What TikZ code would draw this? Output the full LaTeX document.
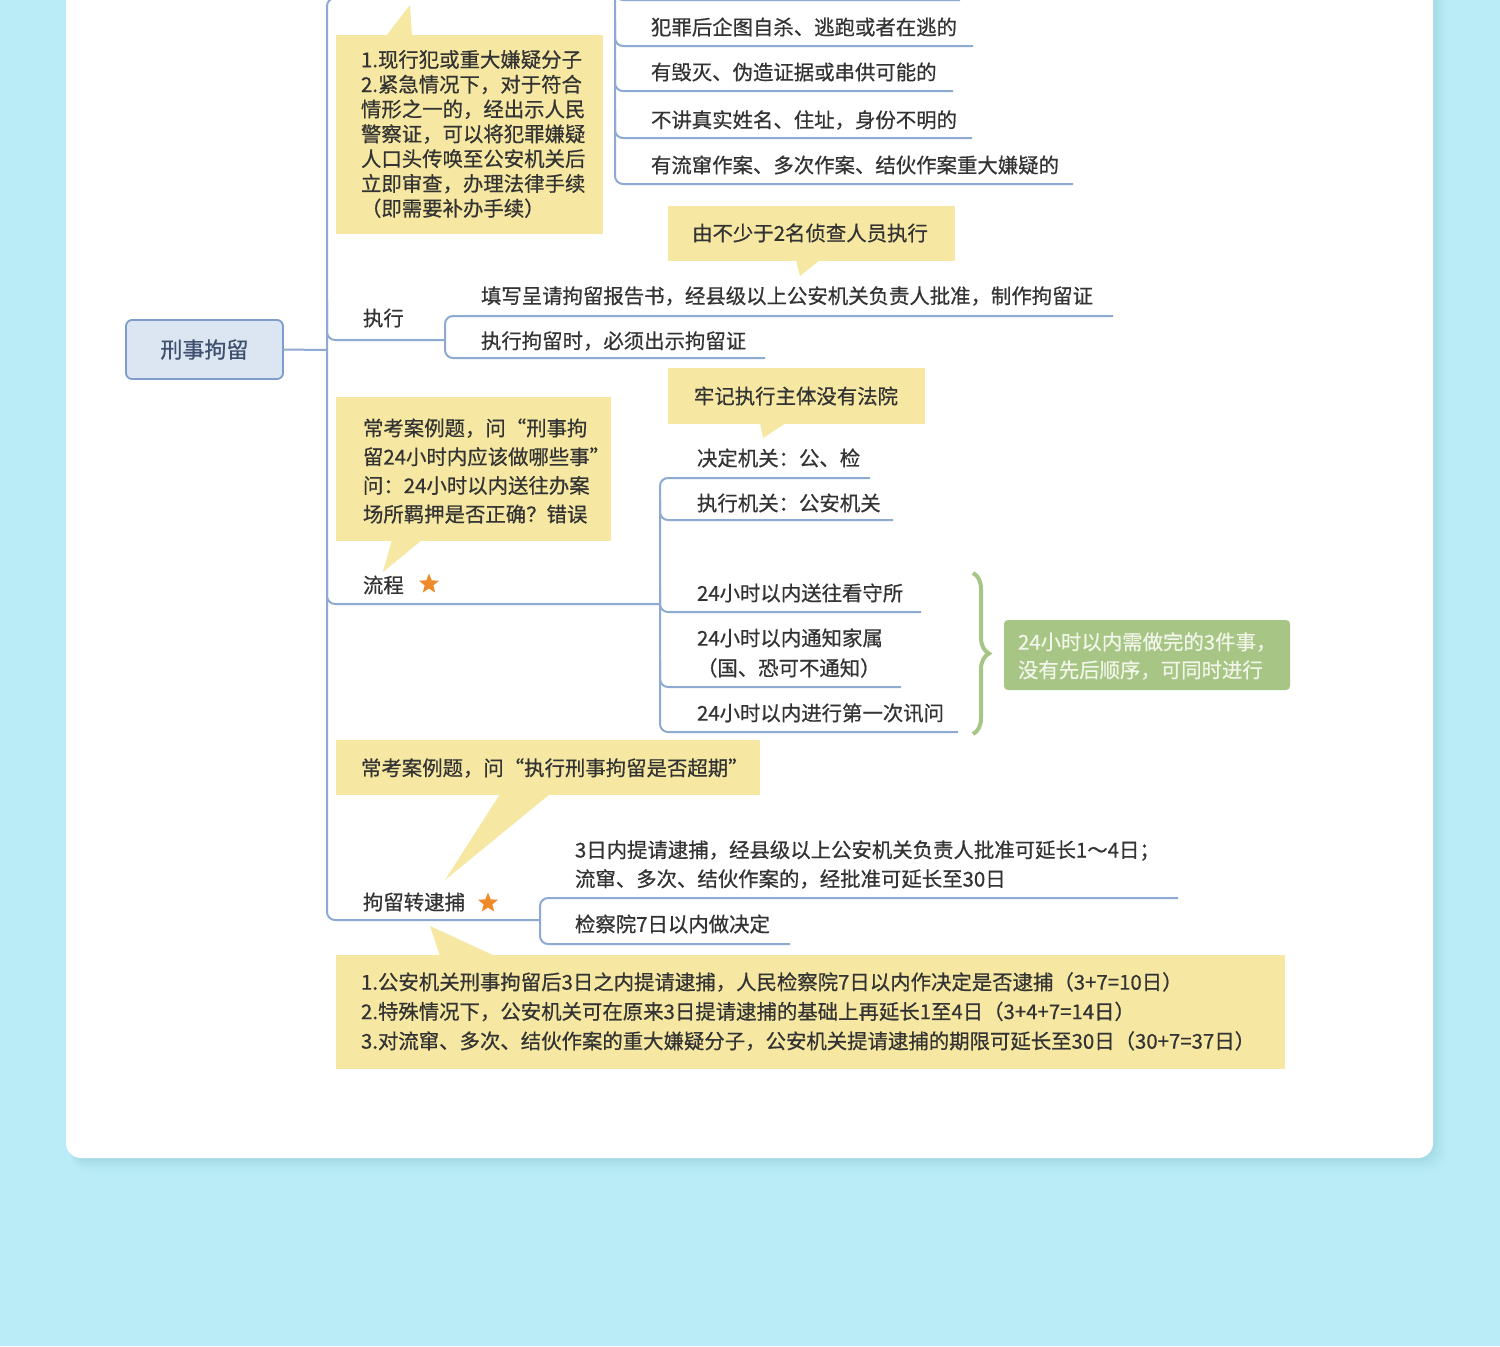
\documentclass[tikz,border=0pt]{standalone}
\usepackage{fontspec}
\setmainfont{Noto Sans CJK SC}[FakeBold=0.6]
\usetikzlibrary{shapes.geometric,decorations.pathreplacing}
\definecolor{bgc}{HTML}{B9ECF6}
\definecolor{shadowc}{HTML}{93CBD6}
\definecolor{linec}{HTML}{8EA9D2}
\definecolor{calloutc}{HTML}{F6E8A3}
\definecolor{txtc}{HTML}{333333}
\definecolor{rootfill}{HTML}{DCE6F3}
\definecolor{rootdraw}{HTML}{7F9DCA}
\definecolor{roottxt}{HTML}{3F4F6E}
\definecolor{greenb}{HTML}{A7C584}
\definecolor{greent}{HTML}{F2F6EA}
\definecolor{starc}{HTML}{EE8A2A}
\begin{document}
\begin{tikzpicture}[x=0.5pt,y=-0.5pt,
  every node/.style={inner sep=0pt,outer sep=0pt},
  txt/.style={anchor=west,text=txtc,align=left,font=\fontsize{10.2pt}{12.4pt}\selectfont},
  branch/.style={draw=linec,line width=1pt,rounded corners=4pt},
  callout/.style={fill=calloutc},
  starmark/.style={star,star points=5,star point ratio=2.3,fill=starc,minimum size=10.5pt}]
\fill[bgc] (0,0) rectangle (1500,1346);
\useasboundingbox (0,0) rectangle (1500,1346);
\clip (0,0) rectangle (1500,1346);
% card shadow and card
\foreach \d/\o in {14/0.06,11/0.08,8/0.1,5/0.14,3/0.18}
  \fill[shadowc,opacity=\o,rounded corners=9pt] (70,-40) rectangle (1433+\d,1158+\d);
\fill[white,rounded corners=7.5pt] (66,-40) rectangle (1433,1158);

% callouts
\fill[callout] (336,35) rectangle (603,234);
\fill[callout] (386,36) -- (410,5) -- (412,36) -- cycle;
\fill[callout] (668,206) rectangle (955,261);
\fill[callout] (796,260) -- (800,276) -- (820,260) -- cycle;
\fill[callout] (668,368) rectangle (925,424);
\fill[callout] (760,423) -- (763,438) -- (786,423) -- cycle;
\fill[callout] (336,397) rectangle (611,541);
\fill[callout] (392,540) -- (383,572) -- (422,540) -- cycle;
\fill[callout] (336,740) rectangle (760,795);
\fill[callout] (500,794) -- (445,880) -- (550,794) -- cycle;
\fill[callout] (336,955) rectangle (1285,1069);
\fill[callout] (440,956) -- (430,926) -- (495,956) -- cycle;

% root
\node[draw=rootdraw,fill=rootfill,line width=0.9pt,rounded corners=3pt,
  minimum width=78.5pt,minimum height=29.5pt,text=roottxt,
  font=\fontsize{11pt}{13pt}\selectfont] (root) at (204.5,349.5) {刑事拘留};

% trunk and branches
\coordinate (j) at (327,350);
\draw[branch] (root.east) -- (j);
\draw[branch] (615,-2) -- (327,-2) -- (327,920) -- (540,920);
\draw[branch] (327,300) -- (327,340) -- (445,340);
\draw[branch] (327,560) -- (327,604) -- (660,604);

% top sub branch
\draw[branch] (615,-60) -- (615,184) -- (1073,184);
\draw[branch] (615,-30) -- (615,0) -- (960,0);
\draw[branch] (615,20) -- (615,46) -- (973,46);
\draw[branch] (615,60) -- (615,91) -- (953,91);
\draw[branch] (615,110) -- (615,138) -- (972,138);

% 执行 sub
\draw[branch] (1113,316) -- (445,316) -- (445,358) -- (765,358);

% 流程 sub
\draw[branch] (870,478) -- (660,478) -- (660,732) -- (958,732);
\draw[branch] (660,500) -- (660,520) -- (893,520);
\draw[branch] (660,590) -- (660,612) -- (921,612);
\draw[branch] (660,660) -- (660,687) -- (901,687);

% 拘留转逮捕 sub
\draw[branch] (1178,898) -- (540,898) -- (540,944) -- (790,944);

% texts
\node[txt] (c1) at (361,134) {1.现行犯或重大嫌疑分子\\2.紧急情况下，对于符合\\情形之一的，经出示人民\\警察证，可以将犯罪嫌疑\\人口头传唤至公安机关后\\立即审查，办理法律手续\\（即需要补办手续）};
\node[txt] (t1) at (651,27) {犯罪后企图自杀、逃跑或者在逃的};
\node[txt] (t2) at (651,72) {有毁灭、伪造证据或串供可能的};
\node[txt] (t3) at (651,120) {不讲真实姓名、住址，身份不明的};
\node[txt] (t4) at (651,165) {有流窜作案、多次作案、结伙作案重大嫌疑的};
\node[txt,anchor=center] (c2) at (810,233) {由不少于2名侦查人员执行};
\node[txt] (zx) at (363,318) {执行};
\node[txt] (e1) at (481,296) {填写呈请拘留报告书，经县级以上公安机关负责人批准，制作拘留证};
\node[txt] (e2) at (481,341) {执行拘留时，必须出示拘留证};
\node[txt,anchor=center] (c3) at (796,396) {牢记执行主体没有法院};
\node[txt,font=\fontsize{10.2pt}{14.35pt}\selectfont] (c4) at (363,471) {常考案例题，问“刑事拘\\留24小时内应该做哪些事”\\问：24小时以内送往办案\\场所羁押是否正确？错误};
\node[txt] (lc) at (363,585) {流程};
\node[starmark] (s1) at (429,584) {};
\node[txt] (f1) at (697,458) {决定机关：公、检};
\node[txt] (f2) at (697,503) {执行机关：公安机关};
\node[txt] (f3) at (697,593) {24小时以内送往看守所};
\node[txt,font=\fontsize{10.2pt}{15pt}\selectfont] (f4) at (697,653) {24小时以内通知家属\\（国、恐可不通知）};
\node[txt] (f5) at (697,713) {24小时以内进行第一次讯问};
\draw[greenb,line width=2pt,decorate,decoration={brace,amplitude=8pt}] (973,573) -- (973,734);
\node[fill=greenb,rounded corners=2pt,minimum width=143pt,minimum height=35pt] (gb) at (1147,655) {};
\node[anchor=west,align=left,text=greent,font=\fontsize{10.2pt}{14pt}\selectfont] (gt) at (1018,656) {24小时以内需做完的3件事，\\没有先后顺序，可同时进行};
\node[txt] (c5) at (361,768) {常考案例题，问“执行刑事拘留是否超期”};
\node[txt] (jl) at (363,902) {拘留转逮捕};
\node[starmark] (s2) at (488,903) {};
\node[txt,font=\fontsize{10.2pt}{14.5pt}\selectfont] (d1) at (575,864.5) {3日内提请逮捕，经县级以上公安机关负责人批准可延长1～4日；\\流窜、多次、结伙作案的，经批准可延长至30日};
\node[txt] (d2) at (575,924) {检察院7日以内做决定};
\node[txt,font=\fontsize{10.2pt}{14.75pt}\selectfont] (c6) at (361,1011.5) {1.公安机关刑事拘留后3日之内提请逮捕，人民检察院7日以内作决定是否逮捕（3+7=10日）\\2.特殊情况下，公安机关可在原来3日提请逮捕的基础上再延长1至4日（3+4+7=14日）\\3.对流窜、多次、结伙作案的重大嫌疑分子，公安机关提请逮捕的期限可延长至30日（30+7=37日）};
\end{tikzpicture}
\end{document}
